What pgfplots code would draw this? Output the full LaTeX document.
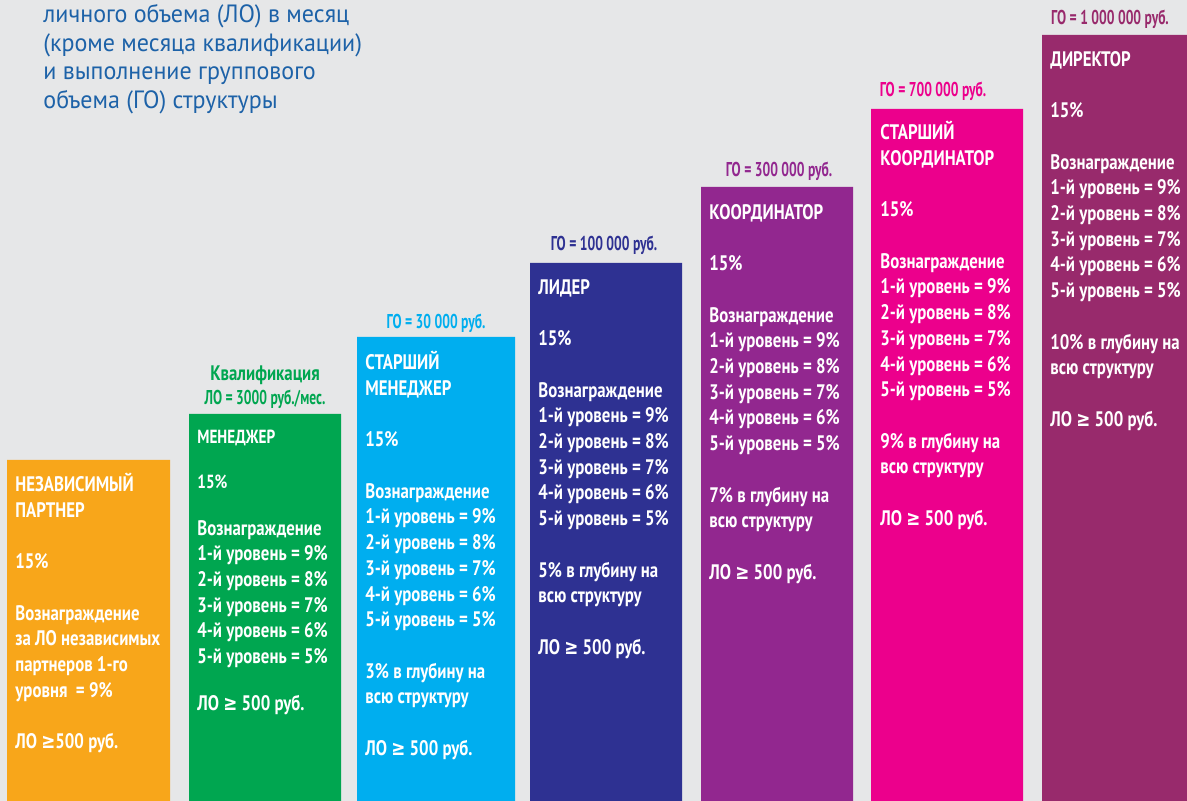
\documentclass[border=0pt]{standalone}
\usepackage{pgfplots}
\pgfplotsset{compat=1.18}
\usepackage{fontspec}
\setmainfont{PT Sans}
\newfontfamily\cond{PT Sans}[FakeStretch=0.8]
\newfontfamily\labf{PT Sans}[FakeStretch=0.68]
\newfontfamily\titf{PT Sans}[FakeStretch=0.96]
\newfontfamily\symf{DejaVu Sans}[FakeStretch=0.8]
\definecolor{bg}{HTML}{E6E7E8}
\definecolor{titc}{HTML}{1D62A8}
\definecolor{cOr}{HTML}{F8A61A}
\definecolor{cGr}{HTML}{00A650}
\definecolor{cLb}{HTML}{00AEEF}
\definecolor{cDb}{HTML}{2E3192}
\definecolor{cPu}{HTML}{92278F}
\definecolor{cMa}{HTML}{EC008C}
\definecolor{cDi}{HTML}{982A6C}
\newcommand{\gap}{\\[12.85pt]}
\newcommand{\ggap}{\\[10.6pt]}
\newcommand{\gesym}{{\symf\bfseries ≥}}
\newcommand{\lev}{1-й уровень = 9\%\\ 2-й уровень = 8\%\\ 3-й уровень = 7\%\\ 4-й уровень = 6\%\\ 5-й уровень = 5\%}
\tikzset{body/.style={font=\cond\bfseries\fontsize{10.5}{12.85}\selectfont, text=white, align=left, inner sep=0pt, anchor=north west},
  lab/.style={font=\labf\bfseries\fontsize{10}{11}\selectfont, inner sep=0pt, anchor=base}}
\begin{document}
\begin{tikzpicture}[x=0.5pt,y=0.5pt]
\useasboundingbox (0,0) rectangle (1187,801);
\clip (0,0) rectangle (1187,801);
\fill[bg] (0,0) rectangle (1187,801);
\begin{axis}[at={(0,0)}, anchor=south west, scale only axis,
  width=593.5pt, height=400.5pt, xmin=0, xmax=1187, ymin=0, ymax=801,
  hide axis, clip=false]
\addplot[fill=cOr, draw=none] coordinates {(7,0) (7,341) (170,341) (170,0)} \closedcycle;
\addplot[fill=cGr, draw=none] coordinates {(189,0) (189,387) (341,387) (341,0)} \closedcycle;
\addplot[fill=cLb, draw=none] coordinates {(357,0) (357,464) (515,464) (515,0)} \closedcycle;
\addplot[fill=cDb, draw=none] coordinates {(530,0) (530,538) (682,538) (682,0)} \closedcycle;
\addplot[fill=cPu, draw=none] coordinates {(701,0) (701,614) (853,614) (853,0)} \closedcycle;
\addplot[fill=cMa, draw=none] coordinates {(871,0) (871,692) (1023,692) (1023,0)} \closedcycle;
\addplot[fill=cDi, draw=none] coordinates {(1042,0) (1042,766) (1195,766) (1195,0)} \closedcycle;

\node[anchor=north west, inner sep=0pt, align=left, text=titc, font=\titf\fontsize{12.5}{14.35}\selectfont] at (axis cs:43,799)
 {\strut личного объема (ЛО) в месяц\\ (кроме месяца квалификации)\\ и выполнение группового\\ объема (ГО) структуры};

\node[lab, text=cGr, font=\cond\bfseries\fontsize{10.5}{11}\selectfont] at (axis cs:265,420) {Квалификация};
\node[lab, text=cGr] at (axis cs:265,396) {ЛО = 3000 руб./мес.};
\node[lab, text=cLb] at (axis cs:436,472) {ГО = 30 000 руб.};
\node[lab, text=cDb] at (axis cs:604,550) {ГО = 100 000 руб.};
\node[lab, text=cPu] at (axis cs:779,624) {ГО = 300 000 руб.};
\node[lab, text=cMa] at (axis cs:933,704) {ГО = 700 000 руб.};
\node[lab, text=cDi] at (axis cs:1110,776) {ГО = 1 000 000 руб.};

\node[body] at (axis cs:15,328) {\strut НЕЗАВИСИМЫЙ\\ ПАРТНЕР\gap 15\%\gap Вознаграждение\\ за ЛО независимых\\ партнеров 1-го\\ уровня \ = 9\%\gap ЛО \gesym500 руб.};
\node[body] at (axis cs:197,376) {\strut{\fontsize{9.5}{12.85}\selectfont МЕНЕДЖЕР}\\[9.6pt] {\fontsize{9.5}{12.85}\selectfont 15\%}\ggap Вознаграждение\\ \lev\ggap ЛО \gesym{} 500 руб.};
\node[body] at (axis cs:365,450) {\strut СТАРШИЙ\\ МЕНЕДЖЕР\gap 15\%\gap Вознаграждение\\ \lev\gap 3\% в глубину на\\ всю структуру\gap ЛО \gesym{} 500 руб.};
\node[body] at (axis cs:538,525) {\strut ЛИДЕР\gap 15\%\gap Вознаграждение\\ \lev\gap 5\% в глубину на\\ всю структуру\gap ЛО \gesym{} 500 руб.};
\node[body] at (axis cs:709,600) {\strut КООРДИНАТОР\gap 15\%\gap Вознаграждение\\ \lev\gap 7\% в глубину на\\ всю структуру\gap ЛО \gesym{} 500 руб.};
\node[body] at (axis cs:880,680) {\strut СТАРШИЙ\\ КООРДИНАТОР\gap 15\%\gap Вознаграждение\\ \lev\gap 9\% в глубину на\\ всю структуру\gap ЛО \gesym{} 500 руб.};
\node[body] at (axis cs:1050,753) {\strut ДИРЕКТОР\gap 15\%\gap Вознаграждение\\ \lev\gap 10\% в глубину на\\ всю структуру\gap ЛО \gesym{} 500 руб.};
\end{axis}
\end{tikzpicture}
\end{document}
